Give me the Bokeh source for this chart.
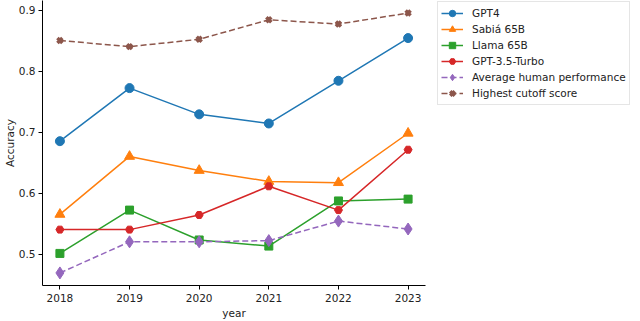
from bokeh.plotting import figure
from bokeh.models import FixedTicker, Legend, LegendItem, Range1d
from bokeh.embed import file_html
from bokeh.resources import INLINE

years = [2018, 2019, 2020, 2021, 2022, 2023]
gpt4 = [0.685, 0.772, 0.729, 0.714, 0.784, 0.854]
sabia = [0.565, 0.660, 0.637, 0.619, 0.617, 0.698]
llama = [0.501, 0.572, 0.523, 0.513, 0.587, 0.590]
gpt35 = [0.540, 0.540, 0.564, 0.611, 0.572, 0.671]
human = [0.469, 0.520, 0.520, 0.522, 0.554, 0.541]
cutoff = [0.850, 0.840, 0.852, 0.884, 0.877, 0.895]
y_ticks = [0.5, 0.6, 0.7, 0.8, 0.9]

FONT = "DejaVu Sans"
FH = 285

p = figure(frame_width=383, frame_height=FH, output_backend="svg", toolbar_location=None,
           x_range=Range1d(2017.75, 2023.25), y_range=Range1d(0.4484, 0.9156),
           min_border_left=30, min_border_top=0, min_border_bottom=34, min_border_right=208)
p.outline_line_color = None
p.xgrid.visible = False
p.ygrid.visible = False
p.background_fill_color = "white"

for ax in (p.xaxis[0], p.yaxis[0]):
    ax.axis_line_color = "black"
    ax.axis_line_width = 1
    ax.major_tick_in = 0
    ax.major_tick_out = 4
    ax.minor_tick_line_color = None
    ax.major_label_text_font = FONT
    ax.major_label_text_font_size = "10.5px"
    ax.major_label_text_color = "#222222"
    ax.axis_label_text_font = FONT
    ax.axis_label_text_font_size = "10.5px"
    ax.axis_label_text_font_style = "normal"
    ax.axis_label_text_color = "#222222"

p.xaxis.major_label_standoff = 4
p.yaxis.major_label_standoff = 3
p.xaxis.ticker = FixedTicker(ticks=years)
p.yaxis.ticker = FixedTicker(ticks=y_ticks)
p.xaxis.axis_label = "year"
p.yaxis.axis_label = "Accuracy"
p.xaxis.axis_label_standoff = 2
p.yaxis.axis_label_standoff = 0

series = [
    ("GPT4", gpt4, "#1f77b4", "circle", 9, "solid", 1.5),
    ("Sabiá 65B", sabia, "#ff7f0e", "triangle", 10, "solid", 1.5),
    ("Llama 65B", llama, "#2ca02c", "square", 8, "solid", 1.5),
    ("GPT-3.5-Turbo", gpt35, "#d62728", "hex", 8, "solid", 1.5),
    ("Average human performance", human, "#9467bd", "diamond", 12, "6 3", 1.5),
    ("Highest cutoff score", cutoff, "#8c564b", "x", 7, "6 3", 1.5),
]

items = []
for name, vals, color, marker, size, dash, lw in series:
    r1 = p.line(years, vals, line_color=color, line_width=lw, line_dash=dash)
    if marker == "x":
        r2 = p.scatter(years, vals, marker="x", size=size, line_color=color, line_width=3.5)
    else:
        r2 = p.scatter(years, vals, marker=marker, size=size, fill_color=color, line_color=color)
    items.append(LegendItem(label=name, renderers=[r1, r2]))

legend = Legend(items=items, location=(12, FH - 102 - 3))
legend.label_text_font = FONT
legend.label_text_font_size = "10.5px"
legend.label_text_color = "#222222"
legend.border_line_color = "#cccccc"
legend.border_line_width = 1
legend.padding = 3
legend.spacing = 0
legend.glyph_width = 22
legend.glyph_height = 16
legend.label_height = 16
legend.label_standoff = 9
legend.margin = 0
p.add_layout(legend, "right")

open("out.html", "w").write(file_html(p, INLINE))
